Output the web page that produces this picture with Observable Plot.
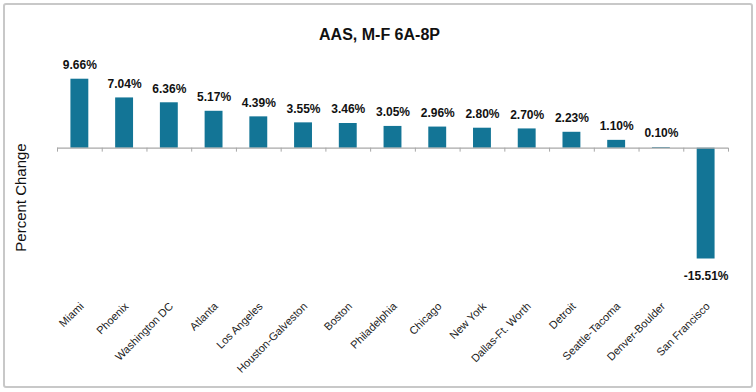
<!DOCTYPE html>
<html>
<head>
<meta charset="utf-8">
<script src="https://cdn.jsdelivr.net/npm/d3@7"></script>
<script src="https://cdn.jsdelivr.net/npm/@observablehq/plot@0.6"></script>
<style>
  html, body { margin: 0; padding: 0; background: #fff; }
  #chart { position: relative; width: 756px; height: 392px; }
  #frame { position: absolute; left: 3px; top: 3px; width: 746px; height: 381px; border: 2px solid #c8c8c8; border-radius: 3px; pointer-events: none; }
  svg { font-family: "Liberation Sans", Arial, sans-serif; }
</style>
</head>
<body>
<div id="chart"><div id="frame"></div></div>
<script>
const title = "AAS, M-F 6A-8P";
const yLabel = "Percent Change";
const cities = ["Miami", "Phoenix", "Washington DC", "Atlanta", "Los Angeles", "Houston-Galveston", "Boston", "Philadelphia", "Chicago", "New York", "Dallas-Ft. Worth", "Detroit", "Seattle-Tacoma", "Denver-Boulder", "San Francisco"];
const values = [9.66, 7.04, 6.36, 5.17, 4.39, 3.55, 3.46, 3.05, 2.96, 2.80, 2.70, 2.23, 1.10, 0.10, -15.51];

const data = cities.map((c, i) => ({city: c, value: values[i]}));
const pos = data.filter(d => d.value >= 0);
const neg = data.filter(d => d.value < 0);

const W = 756, H = 392;
const mL = 57, mR = 28, mT = 62, mB = 130;
const step = (W - mL - mR) / cities.length;
const fmt = v => v.toFixed(2) + "%";

const chart = Plot.plot({
  width: W,
  height: H,
  marginLeft: mL,
  marginRight: mR,
  marginTop: mT,
  marginBottom: mB,
  style: {fontFamily: "'Liberation Sans', Arial, sans-serif", background: "transparent"},
  x: {domain: cities, paddingInner: 0.6, paddingOuter: 0.3, round: false, axis: null},
  y: {domain: [-16, 12], axis: null},
  marks: [
    Plot.barY(data, {x: "city", y: "value", fill: "#137596"}),
    Plot.ruleY([0], {stroke: "#a8a8a8", strokeWidth: 1.2}),
    Plot.ruleX(cities, {x: d => d, y1: 0, y2: -0.55, dx: -step / 2, stroke: "#a8a8a8"}),
    Plot.ruleX([cities[cities.length - 1]], {x: d => d, y1: 0, y2: -0.55, dx: step / 2, stroke: "#a8a8a8"}),
    Plot.text(pos, {x: "city", y: "value", text: d => fmt(d.value), dy: -14, fontWeight: "bold", fontSize: 12, fill: "#111"}),
    Plot.text(neg, {x: "city", y: "value", text: d => fmt(d.value), dy: 17, fontWeight: "bold", fontSize: 12, fill: "#111"}),
    Plot.text(cities, {x: d => d, text: d => d, frameAnchor: "bottom", dy: 42, dx: 2, rotate: -45, textAnchor: "end", lineAnchor: "middle", fontSize: 11, fill: "#222"}),
    Plot.text([title], {frameAnchor: "top", dy: -34, dx: 379 - (mL + (W - mL - mR) / 2), fontWeight: "bold", fontSize: 16, fill: "#111"}),
    Plot.text([yLabel], {frameAnchor: "left", textAnchor: "middle", dx: 21 - mL, dy: 197 - (mT + (H - mT - mB) / 2), rotate: -90, fontSize: 15, fill: "#111"})
  ]
});
document.getElementById("chart").prepend(chart);
chart.style.position = "absolute";
chart.style.left = "0";
chart.style.top = "0";
</script>
</body>
</html>
